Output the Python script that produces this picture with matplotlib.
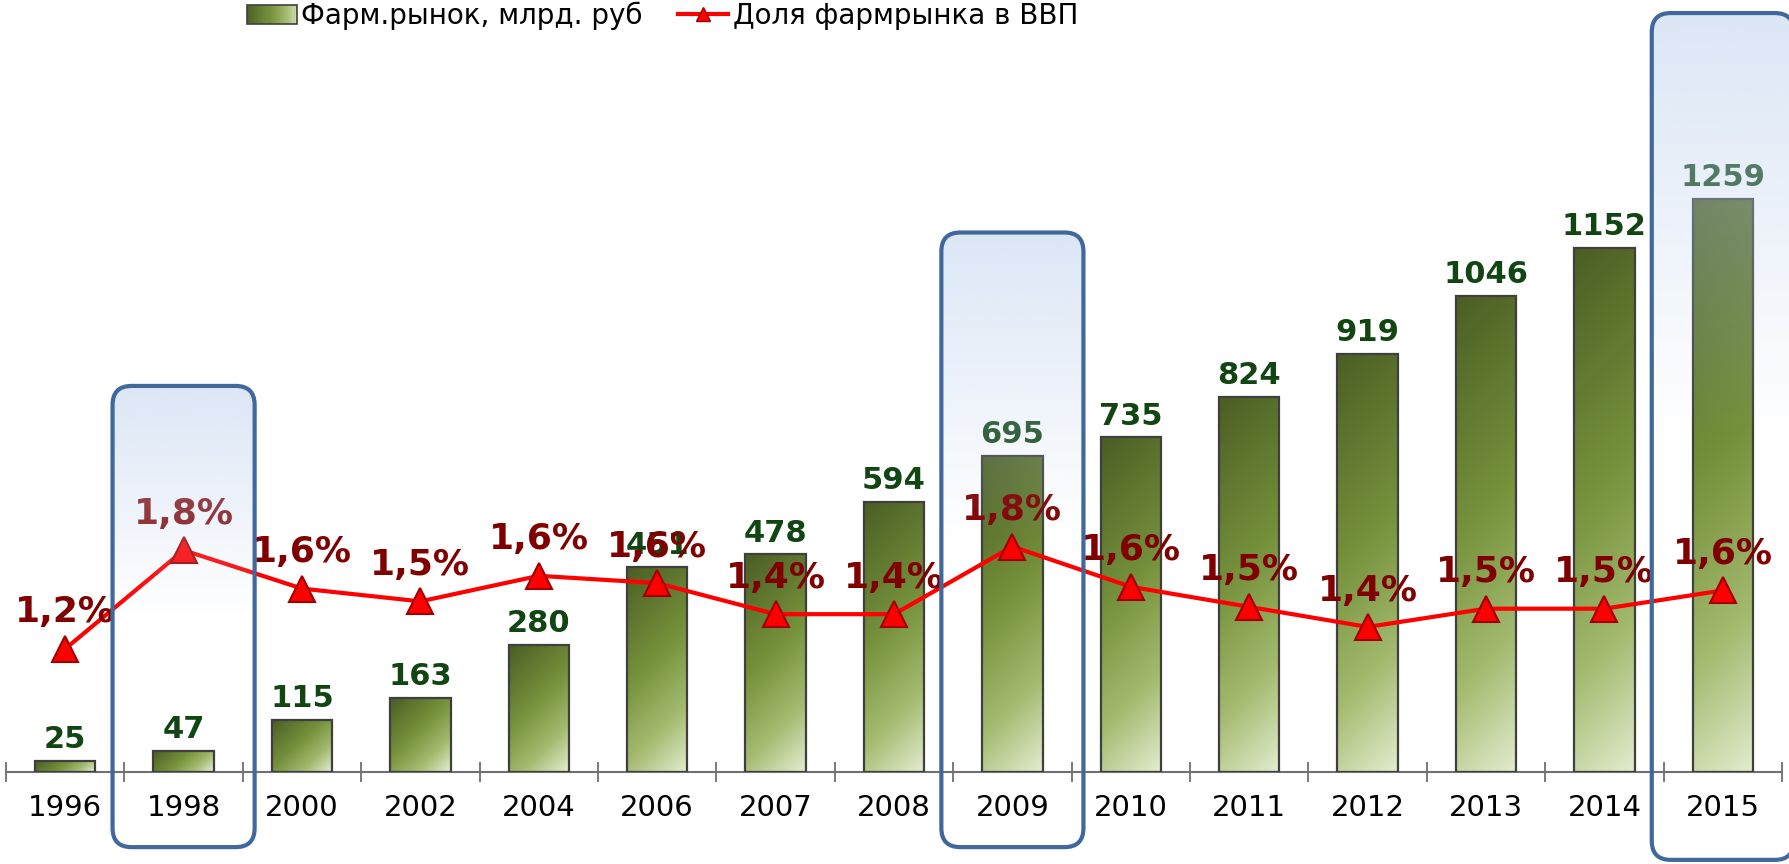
import numpy as np
import matplotlib.pyplot as plt
from matplotlib.colors import LinearSegmentedColormap, to_rgb
from matplotlib.patches import Rectangle, FancyBboxPatch, Patch
from matplotlib.lines import Line2D

years = ['1996', '1998', '2000', '2002', '2004', '2006', '2007', '2008',
         '2009', '2010', '2011', '2012', '2013', '2014', '2015']
market = [25, 47, 115, 163, 280, 451, 478, 594, 695, 735, 824, 919, 1046, 1152, 1259]
share = [1.24, 1.78, 1.57, 1.50, 1.64, 1.60, 1.43, 1.43, 1.80, 1.58, 1.47, 1.36, 1.46, 1.46, 1.56]

# выделенные годы и границы рамок (в единицах левой оси)
hl_years = ['1998', '2009', '2015']
hl_top = [848, 1185, 1667]
hl_bottom = [-165, -165, -193]

W, H = 1790, 864
fig = plt.figure(figsize=(W / 100, H / 100), dpi=100)
ax = fig.add_axes([6 / W, 1 - 772 / H, (1782 - 6) / W, (772 - 34) / H])
ax2 = ax.twinx()

x = np.arange(len(years))
ax.set_xlim(-0.5, len(years) - 0.5)
ax.set_ylim(0, 1621)
ax2.set_ylim(0.566, 4.606)
ax2.set_axis_off()

bar_cmap = LinearSegmentedColormap.from_list(
    'olive', [(0, '#4b5e24'), (0.45, '#76923c'), (0.75, '#a4bb70'), (1, '#e2ecce')])

# пикселей на единицу данных
p0 = ax.transData.transform((0, 0))
p1 = ax.transData.transform((1, 1))
px_x, px_y = p1[0] - p0[0], p1[1] - p0[1]

bw = 0.51
for i, v in enumerate(market):
    w_px, h_px = bw * px_x, v * px_y
    nx, ny = 40, max(4, int(h_px / 3))
    dx = np.linspace(0, w_px, nx)
    dy = np.linspace(0, h_px, ny)
    t = (dx[None, :] + dy[:, None]) / (w_px + h_px)
    ax.imshow(t, cmap=bar_cmap, vmin=0, vmax=1, origin='upper', aspect='auto',
              extent=[i - bw / 2, i + bw / 2, 0, v], interpolation='bilinear', zorder=2)
    ax.add_patch(Rectangle((i - bw / 2, 0), bw, v, fill=False, edgecolor='#3f3f3f', lw=1.6, zorder=3))
    ax.annotate(str(v), (i, v), xytext=(0, 9), textcoords='offset points', ha='center',
                va='baseline', fontsize=22, fontweight='bold', color='#114511', zorder=4)

ax.set_xlim(-0.5, len(years) - 0.5)
ax.set_ylim(0, 1621)

# доля в ВВП (по правой шкале)
ax.plot(x, share, color='#ff0000', lw=3, marker='^', ms=19, mfc='#ff0000', mec='#a00000',
        mew=1.5, transform=ax2.transData, zorder=6)
for i, s in enumerate(share):
    lbl = f'{s:.1f}'.replace('.', ',') + '%'
    ax.annotate(lbl, (i, s), xycoords=ax2.transData, xytext=(0, 19), textcoords='offset points',
                ha='center', va='baseline', fontsize=26, fontweight='bold', color='#800000', zorder=7)

# рамки
hw = 0.6
for yr, top, bot in zip(hl_years, hl_top, hl_bottom):
    i = years.index(yr)
    # почти прозрачная заливка, чтобы Agg не обрезал кривые у края картинки
    box = FancyBboxPatch((i - hw, bot), 2 * hw, top - bot,
                         boxstyle='round,pad=0,rounding_size=0.16', mutation_aspect=px_x / px_y,
                         facecolor=(1, 1, 1, 0.003), edgecolor='#41689c', lw=3,
                         clip_on=False, zorder=12)
    ax.add_patch(box)
    n = 200
    sfrac = np.linspace(0, 1, n)
    rgba = np.zeros((n, 1, 4))
    rgba[:, 0, :3] = to_rgb('#c4d6ef')
    rgba[:, 0, 3] = 0.6 * np.clip(1 - sfrac / 0.5, 0, 1)
    im = ax.imshow(rgba, origin='upper', aspect='auto', extent=[i - hw, i + hw, bot, top],
                   interpolation='bilinear', zorder=11)
    im.set_clip_path(box)
    im.set_clip_box(fig.bbox)

ax.set_xlim(-0.5, len(years) - 0.5)
ax.set_ylim(0, 1621)

for sp in ['left', 'right', 'top']:
    ax.spines[sp].set_visible(False)
ax.spines['bottom'].set_color('#707070')
ax.spines['bottom'].set_linewidth(1.5)
ax.set_yticks([])
ax.set_xticks(x)
ax.set_xticklabels(years, fontsize=21, color='black')
ax.set_xticks(np.arange(-0.5, len(years)), minor=True)
ax.tick_params(axis='x', which='major', length=0, pad=16)
ax.tick_params(axis='x', which='minor', length=14, direction='inout', color='#707070', width=1.3)


class GradPatchHandler:
    # градиентный прямоугольник в легенде
    def legend_artist(self, legend, orig_handle, fontsize, handlebox):
        x0, y0 = -handlebox.xdescent, -handlebox.ydescent
        w, h = handlebox.width, handlebox.height
        k = 24
        for j in range(k):
            c = bar_cmap(0.05 + 0.85 * j / (k - 1))
            handlebox.add_artist(Rectangle((x0 + w * j / k, y0), w / k + 0.3, h, facecolor=c,
                                           edgecolor='none', transform=handlebox.get_transform()))
        edge = Rectangle((x0, y0), w, h, fill=False, edgecolor='#3f3f3f', lw=1.2,
                         transform=handlebox.get_transform())
        handlebox.add_artist(edge)
        return edge


handles = [Patch(facecolor='#6f8b38', edgecolor='#3f3f3f'),
           Line2D([], [], color='#ff0000', lw=3, marker='^', ms=10, mfc='#ff0000', mec='#a00000')]
fig.legend(handles, ['Фарм.рынок, млрд. руб', 'Доля фармрынка в ВВП'], loc='center',
           bbox_to_anchor=(0.370, 1 - 16 / H), ncol=2, frameon=False, fontsize=20,
           handlelength=1.8, handletextpad=0.15, columnspacing=1.3,
           handler_map={Patch: GradPatchHandler()})

fig.savefig('out.png', dpi=100)
